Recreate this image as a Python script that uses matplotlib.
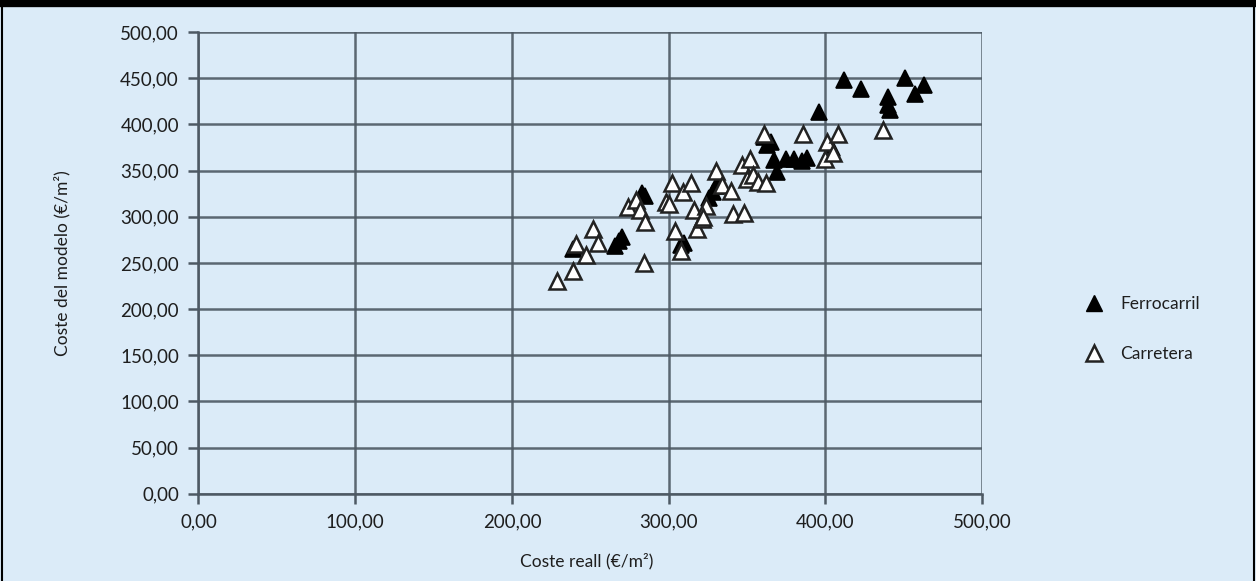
#!/usr/bin/env python3

import matplotlib
matplotlib.use('Agg')
import matplotlib.pyplot as plt
from matplotlib.lines import Line2D
from matplotlib.ticker import FuncFormatter, MultipleLocator

# Ferrocarril (filled triangles): coste real, coste del modelo
ferro_x = [412, 423, 451, 457, 463, 440, 440, 441, 396, 402, 404,
           361, 363, 365, 367, 369, 375, 380, 385, 388,
           326, 328, 330, 332, 283, 285, 266, 268, 270, 239, 241,
           308, 310]
ferro_y = [448, 438, 450, 433, 443, 430, 421, 416, 413, 369, 374,
           386, 378, 381, 361, 348, 362, 362, 360, 364,
           320, 327, 333, 337, 326, 322, 268, 274, 278, 265, 268,
           269, 272]

# Carretera (open triangles)
carr_x = [229, 239, 241, 247, 252, 255, 274, 279, 282, 285, 284,
          298, 300, 302, 304, 308, 309, 314, 316, 318, 321, 324,
          330, 334, 340, 341, 348, 347, 352, 350, 354, 357, 362,
          361, 386, 400, 401, 408, 405, 437, 322]
carr_y = [230, 241, 271, 259, 287, 272, 310, 318, 307, 294, 250,
          316, 314, 337, 285, 263, 327, 337, 307, 287, 298, 312,
          349, 334, 328, 303, 304, 356, 362, 341, 345, 338, 336,
          389, 390, 362, 381, 390, 369, 394, 300]

bg = '#dbebf8'
grid_col = '#4d5964'
txt = '#1e1e1e'

plt.rcParams['font.family'] = ['Lato', 'DejaVu Sans']

fig = plt.figure(figsize=(12.56, 5.81), dpi=100, facecolor=bg)
ax = fig.add_axes([0.158, 0.150, 0.624, 0.795])
ax.set_facecolor(bg)

ax.plot(ferro_x, ferro_y, linestyle='none', marker='^', ms=11,
        mfc='black', mec='black', mew=1.2, zorder=3)
ax.plot(carr_x, carr_y, linestyle='none', marker='^', ms=11,
        mfc='white', mec='#222222', mew=1.8, zorder=3)

ax.set_xlim(0, 500)
ax.set_ylim(0, 500)
ax.xaxis.set_major_locator(MultipleLocator(100))
ax.yaxis.set_major_locator(MultipleLocator(50))
fmt = FuncFormatter(lambda v, p: f'{v:.2f}'.replace('.', ','))
ax.xaxis.set_major_formatter(fmt)
ax.yaxis.set_major_formatter(fmt)

ax.grid(True, color=grid_col, linewidth=1.8, alpha=0.9)
ax.set_axisbelow(True)
for s in ['top', 'right']:
    ax.spines[s].set_visible(False)
for s in ['left', 'bottom']:
    ax.spines[s].set_color(grid_col)
    ax.spines[s].set_linewidth(1.8)
ax.tick_params(axis='both', direction='out', length=7, width=1.8,
               color=grid_col, labelsize=13.5, labelcolor=txt, pad=7)

ax.set_xlabel('Coste reall (€/m²)', fontsize=12.5, color=txt)
ax.set_ylabel('Coste del modelo (€/m²)', fontsize=12.5, color=txt)
ax.xaxis.set_label_coords(0.495, -0.127)
ax.yaxis.set_label_coords(-0.163, 0.5)

handles = [
    Line2D([], [], linestyle='none', marker='^', ms=11, mfc='black', mec='black'),
    Line2D([], [], linestyle='none', marker='^', ms=11, mfc='white', mec='#222222', mew=1.8),
]
fig.legend(handles, ['Ferrocarril', 'Carretera'], loc='center left',
           bbox_to_anchor=(0.850, 0.433), frameon=False, fontsize=12.5,
           borderpad=0, labelspacing=1.95, handletextpad=0.55, labelcolor=txt)

# black frame of the figure box
fig.add_artist(Line2D([0, 1], [0.995, 0.995], transform=fig.transFigure,
                      color='black', linewidth=6))
fig.add_artist(Line2D([0.0015, 0.0015], [0, 1], transform=fig.transFigure,
                      color='black', linewidth=1.5))
fig.add_artist(Line2D([0.9985, 0.9985], [0, 1], transform=fig.transFigure,
                      color='black', linewidth=1.5))

fig.savefig('out.png', dpi=100, facecolor=bg)
